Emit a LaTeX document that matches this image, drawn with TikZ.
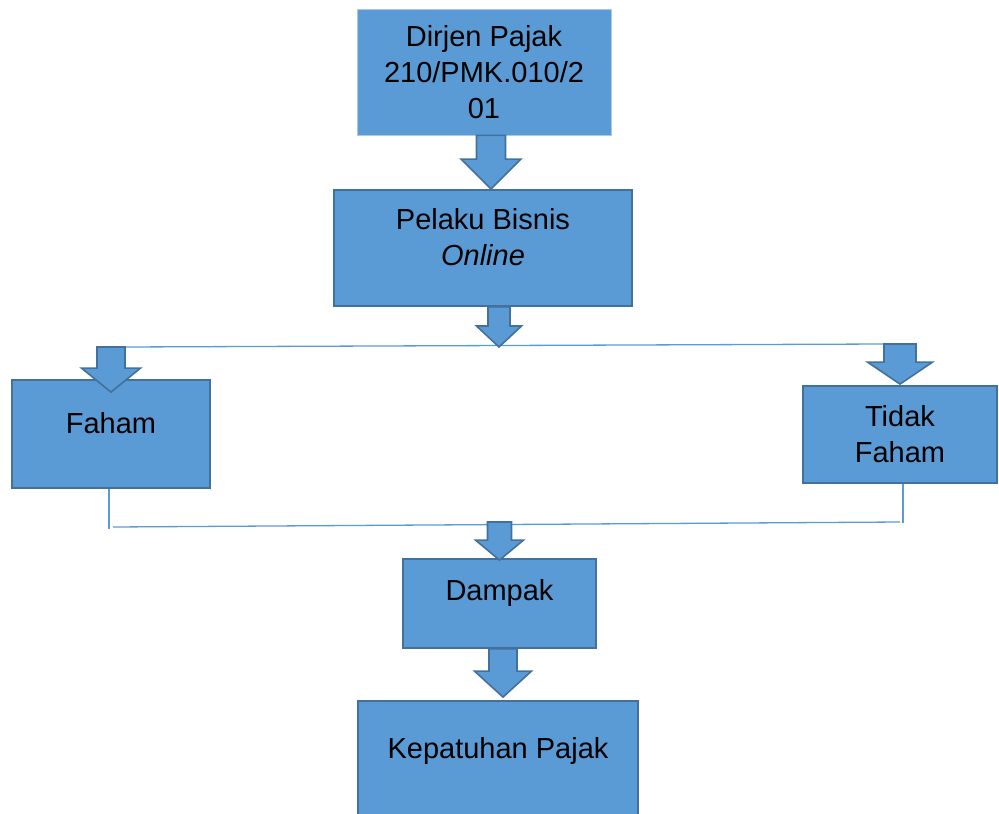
\documentclass[tikz,border=0pt]{standalone}
\usepackage{fontspec}
\setmainfont{Liberation Sans}
\usetikzlibrary{calc}

\definecolor{boxblue}{HTML}{5B9BD5}
\definecolor{edgeblue}{HTML}{41719C}
\definecolor{paleedge}{HTML}{A9C9E8}

% block arrow: start, tip, shaft half width, head half width, head length
\newcommand*{\blockarrow}[5]{%
  \draw[arrowbox] let \p1=#1, \p2=#2 in
    (\x2-#3pt,\y1) -- (\x2-#3pt,\y2+#5pt) -- (\x2-#4pt,\y2+#5pt) -- (\x2,\y2)
    -- (\x2+#4pt,\y2+#5pt) -- (\x2+#3pt,\y2+#5pt) -- (\x2+#3pt,\y1) -- cycle;}

\begin{document}
\begin{tikzpicture}[x=1pt,y=-1pt,
    box/.style={rectangle,draw=edgeblue,line width=1.8pt,fill=boxblue,
      font=\fontsize{29pt}{36pt}\selectfont,align=center,inner sep=0pt},
    txt/.style={font=\fontsize{29pt}{36pt}\selectfont,align=center,inner sep=0pt},
    arrowbox/.style={draw=edgeblue,line width=1.6pt,fill=boxblue,line join=miter},
    thinline/.style={draw=boxblue,line width=1.3pt}]

    \useasboundingbox (0,0) rectangle (999,814);

    % boxes
    \node[box,draw=paleedge,line width=0.8pt,minimum width=254,minimum height=126] (dirjen) at (484,72)
        {Dirjen Pajak\\210/PMK.010/2\\01};
    \node[box,minimum width=298,minimum height=116,
        label={[txt,yshift=11pt]center:Pelaku Bisnis\\\textit{Online}}] (pelaku) at (483,248) {};
    \node[box,minimum width=198,minimum height=108,
        label={[txt,yshift=11pt]center:Faham}] (faham) at (111,434) {};
    \node[box,minimum width=194,minimum height=97] (tidak) at (900,434.5) {Tidak\\Faham};
    \node[box,minimum width=193,minimum height=89,
        label={[txt,yshift=11pt]center:Dampak}] (dampak) at (499.5,603.5) {};
    \node[box,minimum width=280,minimum height=140,
        label={[txt,yshift=20pt]center:Kepatuhan Pajak}] (patuh) at (498,771) {};

    % split and join lines
    \coordinate (splitL) at (124,347);
    \coordinate (splitR) at (883,344);
    \coordinate (fork) at (499,347);
    \coordinate (joinL) at (113,527);
    \coordinate (joinR) at (900,522);
    \coordinate (join) at (499,522);

    \draw[thinline] (splitL) -- (splitR);
    \draw[thinline] (joinL) -- (joinR);
    \draw[thinline] ([xshift=-2pt]faham.south) -- ++(0,40);
    \draw[thinline] ([xshift=3pt]tidak.south) -- ++(0,39);

    % arrows
    \blockarrow{(dirjen.south)}{([xshift=8pt]pelaku.north)}{14.5}{30}{30}
    \blockarrow{(pelaku.south)}{(fork)}{11}{22.5}{21}
    \blockarrow{(splitL)}{([yshift=-13pt]faham.north)}{14}{29.5}{24}
    \blockarrow{(splitR)}{([yshift=1pt]tidak.north)}{16}{32.5}{22}
    \blockarrow{(join)}{([yshift=-2pt]dampak.north)}{12}{24}{20}
    \blockarrow{(dampak.south)}{([xshift=5pt,yshift=3pt]patuh.north)}{14}{28.5}{26}

\end{tikzpicture}
\end{document}
